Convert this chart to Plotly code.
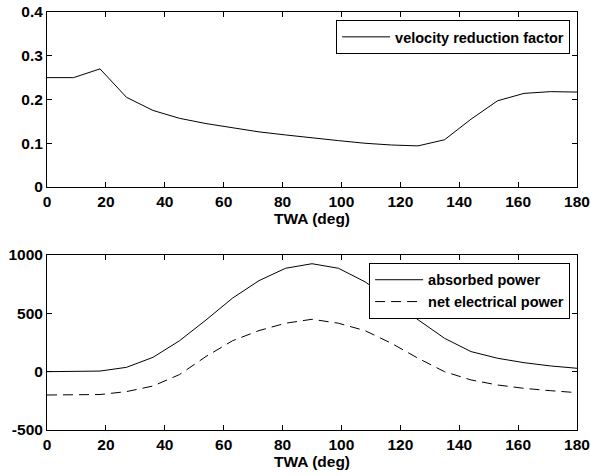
import plotly.graph_objects as go

# True wind angle grid (deg)
twa = [0, 9, 18, 27, 36, 45, 54, 63, 72, 81, 90, 99, 108, 117, 126, 135, 144, 153, 162, 171, 180]

# Velocity reduction factor vs TWA
velocity_reduction = [0.250, 0.250, 0.270, 0.205, 0.175, 0.157, 0.145, 0.135, 0.126, 0.119,
                      0.112, 0.106, 0.100, 0.096, 0.094, 0.108, 0.155, 0.197, 0.214, 0.218, 0.217]

# Power curves (W)
absorbed_power = [0, 0, 5, 37, 123, 265, 443, 630, 780, 886,
                  925, 886, 770, 615, 445, 286, 172, 115, 77, 49, 29]
net_electrical_power = [-200, -200, -196, -171, -123, -25, 130, 265, 352, 415,
                        449, 415, 352, 243, 115, 0, -71, -114, -143, -163, -180]

x_ticks = [0, 20, 40, 60, 80, 100, 120, 140, 160, 180]
top_y_ticks = [0, 0.1, 0.2, 0.3, 0.4]
bottom_y_ticks = [-500, 0, 500, 1000]
bottom_y_labels = ["-500", "0", "500", "1000"]

FONT = "Liberation Sans, Arial, Helvetica, sans-serif"
tick_font = dict(family=FONT, size=15.5, color="black", weight="bold")
title_font = dict(family=FONT, size=15.5, color="black", weight="bold")

fig = go.Figure()

fig.add_trace(go.Scatter(
    x=twa, y=velocity_reduction, mode="lines",
    name="velocity reduction factor",
    line=dict(color="black", width=1),
    xaxis="x", yaxis="y", legend="legend",
))
fig.add_trace(go.Scatter(
    x=twa, y=absorbed_power, mode="lines",
    name="absorbed power",
    line=dict(color="black", width=1),
    xaxis="x2", yaxis="y2", legend="legend2",
))
fig.add_trace(go.Scatter(
    x=twa, y=net_electrical_power, mode="lines",
    name="net electrical power",
    line=dict(color="black", width=1, dash="10px,6px"),
    xaxis="x2", yaxis="y2", legend="legend2",
))

axis_common = dict(
    showline=True, linecolor="black", linewidth=1, mirror="ticks",
    ticks="inside", ticklen=5, tickcolor="black",
    showgrid=False, zeroline=False, tickfont=tick_font, automargin=False,
)

legend_common = dict(
    bgcolor="white", bordercolor="black", borderwidth=1,
    font=dict(family=FONT, size=14.5, color="black", weight="bold"),
    itemwidth=48, tracegroupgap=0,
    xanchor="right", yanchor="top",
)

fig.update_layout(
    width=591, height=476,
    margin=dict(l=47, r=14, t=12, b=46, autoexpand=False),
    plot_bgcolor="white", paper_bgcolor="white",
    showlegend=True,
    xaxis=dict(domain=[0, 1], anchor="y", range=[0, 180], tickvals=x_ticks,
               title=dict(text="TWA (deg)", font=title_font, standoff=2), **axis_common),
    yaxis=dict(domain=[0.5813, 1], anchor="x", range=[0, 0.4], tickvals=top_y_ticks,
               **axis_common),
    xaxis2=dict(domain=[0, 1], anchor="y2", range=[0, 180], tickvals=x_ticks,
                title=dict(text="TWA (deg)", font=title_font, standoff=2), **axis_common),
    yaxis2=dict(domain=[0, 0.4187], anchor="x2", range=[-500, 1000],
                tickvals=bottom_y_ticks, ticktext=bottom_y_labels, **axis_common),
    legend=dict(x=0.987, y=0.981, **legend_common),
    legend2=dict(x=0.987, y=0.40, **legend_common),
)

fig.write_html("out.html")
